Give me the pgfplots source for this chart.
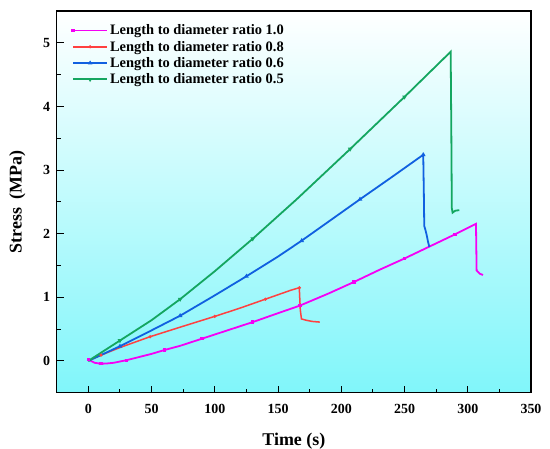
\documentclass[border=0pt]{standalone}
\usepackage{pgfplots}
\pgfplotsset{compat=1.18}
\usepackage{fontspec}
\setmainfont{Liberation Serif}
\definecolor{cmag}{RGB}{245,0,245}
\definecolor{cred}{RGB}{255,64,64}
\definecolor{cblue}{RGB}{16,96,224}
\definecolor{cgreen}{RGB}{20,166,96}
\definecolor{cbot}{RGB}{128,246,250}
\begin{document}
\begin{tikzpicture}
\begin{axis}[
  name=ax,
  scale only axis,
  width=474.3bp, height=381.7bp,
  xmin=-25, xmax=350, ymin=-0.5, ymax=5.5,
  xtick={0,50,...,350}, ytick={0,1,2,3,4,5},
  minor x tick num=1, minor y tick num=1,
  xtick pos=bottom, ytick pos=left,
  tick align=inside,
  major tick length=7bp, minor tick length=4bp,
  every tick/.style={black, line width=1bp},
  axis line style={line width=1.2bp, black},
  /pgf/number format/assume math mode=true,
  ticklabel style={font=\fontsize{14}{16}\selectfont\bfseries},
  xticklabel style={yshift=-8bp},
  yticklabel style={xshift=-3bp},
  xlabel={Time (s)},
  ylabel={Stress\ \ (MPa)},
  label style={font=\fontsize{18}{20}\selectfont\bfseries},
  xlabel style={yshift=-13bp},
  ylabel style={yshift=11bp},
  axis background/.style={top color=white, bottom color=cbot},
  legend cell align=left,
  legend style={draw=none, fill=none, at={(rel axis cs:0.026,0.975)}, anchor=north west,
    font=\fontsize{14.5}{16}\selectfont\bfseries, row sep=0.8bp},
  legend image code/.code={\draw[line width=1.8bp, mark=none] (0bp,0bp) -- (34bp,0bp);
    \draw[mark repeat=2,mark phase=2] plot coordinates {(0bp,0bp) (17bp,0bp) (34bp,0bp)};},
]
\addplot[cmag, line width=1.8bp, mark=square*, mark size=0.8pt, mark indices={1,4,7,10,12,14,16,18,20,22}] coordinates {
(0,0.02) (2,0.0) (5,-0.03) (10,-0.045) (15,-0.04) (20,-0.03) (30,0.01) (40,0.06) (50,0.11) (60,0.17)
(72.6,0.237) (90,0.35) (110,0.48) (130,0.61) (150,0.75) (167.4,0.87) (190,1.06) (210,1.24) (230,1.43)
(250,1.61) (270,1.80) (290,1.99) (306.5,2.155) (307,1.42) (309.6,1.37) (312,1.35)};
\addlegendentry{Length to diameter ratio 1.0}
\addplot[cred, line width=1.5bp, mark=*, mark size=0.7pt, mark indices={2,4,6,8,10}] coordinates {
(0,0) (10,0.09) (25,0.21) (48.8,0.38) (72.6,0.53) (100,0.70) (120,0.83) (140,0.97) (160,1.11) (166.8,1.15)
(167.6,0.80) (168.5,0.66) (172,0.64) (177,0.62) (183,0.61)};
\addlegendentry{Length to diameter ratio 0.8}
\addplot[cblue, line width=1.8bp, mark=triangle*, mark size=0.9pt, mark indices={2,4,6,8,10,12}] coordinates {
(0,0) (25,0.23) (50,0.48) (72.6,0.71) (100,1.03) (125,1.33) (150,1.64) (168.7,1.89) (190,2.19) (214.8,2.54)
(240,2.89) (264.8,3.24) (265.3,2.60) (265.6,2.12) (266.5,2.06) (267.5,1.98) (268.5,1.88) (269.6,1.79)};
\addlegendentry{Length to diameter ratio 0.6}
\addplot[cgreen, line width=1.8bp, mark=triangle*, mark options={rotate=180}, mark size=0.9pt, mark indices={2,4,6,8,9}] coordinates {
(0,0) (25,0.32) (50,0.64) (72.6,0.97) (100,1.41) (130,1.92) (164.7,2.54) (207,3.33) (250,4.15) (286.5,4.86)
(287,3.6) (287.4,2.40) (288,2.33) (290,2.36) (293.3,2.37)};
\addlegendentry{Length to diameter ratio 0.5}
\end{axis}
\pgfresetboundingbox
\path[use as bounding box] ([xshift=-56.7bp,yshift=-56.3bp]ax.south west) rectangle ([xshift=19bp,yshift=11bp]ax.north east);
\end{tikzpicture}
\end{document}
